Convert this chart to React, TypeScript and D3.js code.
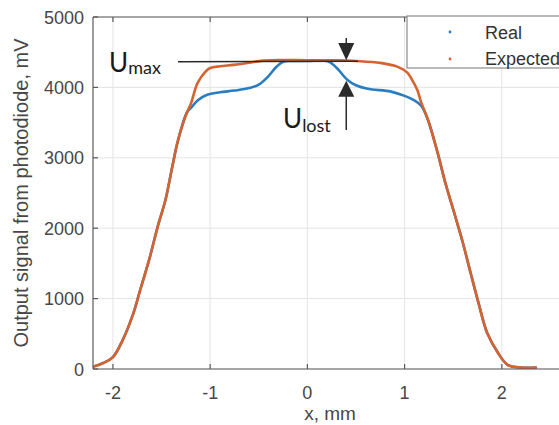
import React from "react";
import * as d3 from "d3";

// Photodiode output across the scan, x in mm, signal in mV
const expectedX = [-2.21, -2.1, -2.0, -1.9, -1.79, -1.72, -1.62, -1.54, -1.46, -1.39, -1.33, -1.24, -1.2, -1.13, -1.05, -1.0, -0.9, -0.76, -0.6, -0.48, -0.3, 0.0, 0.3, 0.5, 0.75, 0.93, 1.03, 1.08, 1.13, 1.17, 1.24, 1.34, 1.42, 1.51, 1.6, 1.68, 1.76, 1.85, 1.96, 2.06, 2.2, 2.35];
const expectedY = [30, 85, 170, 410, 790, 1120, 1590, 2020, 2400, 2870, 3250, 3640, 3760, 4060, 4220, 4275, 4300, 4320, 4350, 4377, 4388, 4386, 4385, 4375, 4348, 4292, 4207, 4100, 3966, 3790, 3540, 3070, 2640, 2220, 1790, 1360, 940, 510, 230, 60, 20, 20];

const realX = [-2.21, -2.1, -2.0, -1.9, -1.79, -1.72, -1.62, -1.54, -1.46, -1.39, -1.33, -1.24, -1.19, -1.13, -1.03, -0.9, -0.75, -0.6, -0.5, -0.4, -0.32, -0.25, -0.15, 0.0, 0.21, 0.3, 0.41, 0.5, 0.62, 0.86, 1.0, 1.09, 1.17, 1.24, 1.34, 1.42, 1.51, 1.6, 1.68, 1.76, 1.85, 1.96, 2.06, 2.2, 2.35];
const realY = [30, 85, 170, 410, 790, 1120, 1590, 2020, 2400, 2870, 3250, 3640, 3720, 3815, 3895, 3930, 3955, 3990, 4040, 4160, 4290, 4365, 4375, 4375, 4372, 4280, 4110, 4030, 3980, 3940, 3880, 3824, 3740, 3540, 3070, 2640, 2220, 1790, 1360, 940, 510, 230, 60, 20, 20];

const xTicks = [-2, -1, 0, 1, 2];
const yTicks = [0, 1000, 2000, 3000, 4000, 5000];
const seriesNames = ["Real", "Expected"];

const BLUE = "#2a7dc0";
const ORANGE = "#d6632f";
const AXIS = "#5a5a5a";
const GRID = "#e4e4e4";
const TICK_TEXT = "#474747";

const left = 93;
const right = 565;
const top = 17;
const bottom = 369;

export default function App() {
  const x = d3.scaleLinear().domain([-2.205, 2.65]).range([left, right]);
  const y = d3.scaleLinear().domain([0, 5000]).range([bottom, top]);

  const line = d3
    .line<[number, number]>()
    .x((d) => x(d[0]))
    .y((d) => y(d[1]))
    .curve(d3.curveCatmullRom.alpha(0.5));

  const realPts = realX.map((v, i) => [v, realY[i]] as [number, number]);
  const expPts = expectedX.map((v, i) => [v, expectedY[i]] as [number, number]);

  const sansFont = "'Liberation Sans', Arial, Helvetica, sans-serif";
  const noteFont = "Lato, 'Open Sans', sans-serif";

  // U_max reference level and arrow geometry
  const uMaxLevel = 4385;
  const arrowX = x(0.4);
  const yMax = y(uMaxLevel) + 1;
  const yLost = y(4110) + 1;

  return (
    <svg
      width={559}
      height={425}
      style={{ position: "absolute", left: 0, top: 0, background: "#fff" }}
    >
      <defs>
        <clipPath id="plotClip">
          <rect x={left} y={top} width={right - left} height={bottom - top} />
        </clipPath>
      </defs>

      {/* grid */}
      <g stroke={GRID} strokeWidth={1}>
        {xTicks.map((t) => (
          <line key={"gx" + t} x1={x(t)} x2={x(t)} y1={top} y2={bottom} />
        ))}
        {yTicks.map((t) => (
          <line key={"gy" + t} x1={left} x2={right} y1={y(t)} y2={y(t)} />
        ))}
      </g>

      {/* series */}
      <g clipPath="url(#plotClip)" fill="none" strokeLinejoin="round" strokeLinecap="round">
        <path d={line(realPts) ?? ""} stroke={BLUE} strokeWidth={2.6} />
        <path d={line(expPts) ?? ""} stroke={ORANGE} strokeWidth={2.6} />
      </g>

      {/* axes box */}
      <g stroke={AXIS} strokeWidth={1.2} fill="none">
        <line x1={left} x2={right} y1={bottom} y2={bottom} />
        <line x1={left} x2={right} y1={top} y2={top} />
        <line x1={left} x2={left} y1={top} y2={bottom} />
        {xTicks.map((t) => (
          <g key={"tx" + t}>
            <line x1={x(t)} x2={x(t)} y1={bottom} y2={bottom - 5} />
            <line x1={x(t)} x2={x(t)} y1={top} y2={top + 5} />
          </g>
        ))}
        {yTicks.map((t) => (
          <line key={"ty" + t} x1={left} x2={left + 5} y1={y(t)} y2={y(t)} />
        ))}
      </g>

      {/* tick labels */}
      <g fontFamily={sansFont} fontSize={18} fill={TICK_TEXT}>
        {xTicks.map((t) => (
          <text key={"lx" + t} x={x(t)} y={399} textAnchor="middle">
            {t < 0 ? "-" + Math.abs(t) : String(t)}
          </text>
        ))}
        {yTicks.map((t) => (
          <text key={"ly" + t} x={84} y={y(t) + 6.5} textAnchor="end">
            {t}
          </text>
        ))}
      </g>

      {/* axis titles */}
      <text
        x={330}
        y={420}
        textAnchor="middle"
        fontFamily={sansFont}
        fontSize={19}
        fill={TICK_TEXT}
      >
        x, mm
      </text>
      <text
        transform={`translate(28, ${(top + bottom) / 2}) rotate(-90)`}
        textAnchor="middle"
        fontFamily={sansFont}
        fontSize={20}
        fill={TICK_TEXT}
      >
        Output signal from photodiode, mV
      </text>

      {/* legend */}
      <g>
        <rect x={407} y={16} width={170} height={52} fill="#fff" stroke="#8a8a8a" strokeWidth={1.2} />
        {seriesNames.map((name, i) => (
          <g key={name}>
            <circle cx={450} cy={32 + i * 27} r={1.4} fill={i === 0 ? BLUE : ORANGE} />
            <text
              x={485}
              y={39 + i * 26}
              fontFamily={sansFont}
              fontSize={18}
              fill="#333"
            >
              {name}
            </text>
          </g>
        ))}
      </g>

      {/* U_max annotation */}
      <g stroke="#2a2a2a" strokeWidth={1.5} fill="#2a2a2a">
        <line x1={178} x2={358} y1={yMax + 0.5} y2={yMax} />
        <line x1={arrowX} x2={arrowX} y1={38} y2={46} />
        <polygon
          points={`${arrowX - 8},${43} ${arrowX + 8},${43} ${arrowX},${yMax - 1}`}
          stroke="none"
        />
        <line x1={arrowX} x2={arrowX} y1={yLost + 14} y2={130} />
        <polygon
          points={`${arrowX - 8},${yLost + 16} ${arrowX + 8},${yLost + 16} ${arrowX},${yLost}`}
          stroke="none"
        />
      </g>
      <text x={109} y={72} fontFamily={noteFont} fontSize={26} fill="#1a1a1a">
        U
        <tspan fontSize={18} dy={2}>max</tspan>
      </text>
      <text x={283} y={128} fontFamily={noteFont} fontSize={26} fill="#1a1a1a">
        U
        <tspan fontSize={18} dy={4}>lost</tspan>
      </text>
    </svg>
  );
}
